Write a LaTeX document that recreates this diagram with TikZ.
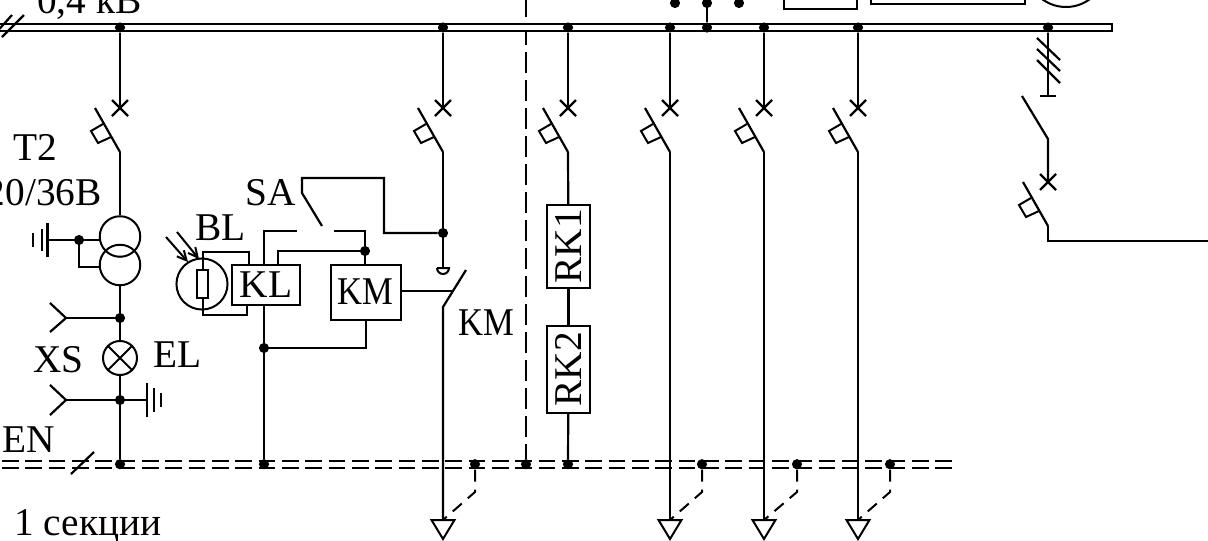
\documentclass[tikz,border=0pt]{standalone}
\usepackage{fontspec}
\usepackage{graphicx}
\setmainfont{Liberation Serif}
\usetikzlibrary{arrows.meta}
\tikzset{
  wire/.style={line width=1.65pt,line join=miter},
  thin wire/.style={line width=1.5pt},
  jdot/.style={circle,fill=black,inner sep=0pt,minimum size=7.6pt},
  box/.style={draw,line width=1.5pt,fill=white,inner sep=0pt},
  lbl/.style={font=\fontsize{29.5}{32}\selectfont,inner sep=0pt},
  dashA/.style={line width=1.6pt,dash pattern=on 15.5pt off 5.5pt},
  dashB/.style={line width=1.35pt,dash pattern=on 12.6pt off 4.9pt},
  dashC/.style={line width=1.5pt,dash pattern=on 9pt off 6pt},
  breaker/.pic={
    \draw[wire] (-8,-8) -- (8,8) (-8,8) -- (8,-8);
    \draw[wire] (-25,0) -- (0,44);
    \draw[thin wire] (-17,16) -- (-29,23) -- (-22,35) -- (-9,29);
    \coordinate (-top) at (0,0);
    \coordinate (-out) at (0,44);
  },
  groundtip/.pic={
    \draw[thin wire] (-11.5,0) -- (11.5,0) -- (0,19) -- cycle;
    \coordinate (-top) at (0,0);
  }
}
\begin{document}
\begin{tikzpicture}[x=0.75pt,y=-0.75pt]
\useasboundingbox (0,0) rectangle (1208,540);
\clip (0,0) rectangle (1208,540);

% vertical section divider
\coordinate (divT) at (526,-4);
\node[jdot] (jn2) at (526,464.2) {};
\draw[dashA] (divT) -- (jn2);

% top bus
\coordinate (busL) at (-6,24);
\coordinate (busR) at (1112,31);
\draw[line width=1.3pt,fill=white] (busL) rectangle (busR);

% N bus (double dashed)
\coordinate (nL1) at (2,460.7);
\coordinate (nR1) at (953,460.7);
\coordinate (nL2) at (2,467.7);
\coordinate (nR2) at (953,467.7);
\draw[dashB] (nL1) -- (nR1);
\draw[dashB] (nL2) -- (nR2);
\coordinate (enA) at (71,474);
\coordinate (enB) at (94,452);
\draw[wire] (enA) -- (enB);

% bus labels and slashes
\node[lbl,anchor=base west] (volt) at (37,13) {0,4 кВ};
\coordinate (sa) at (2,37); \coordinate (sb) at (24,15);
\coordinate (sc) at (-6,35); \coordinate (sd) at (12,15);
\draw[wire] (sa) -- (sb) (sc) -- (sd);

% top junctions on bus
\node[jdot] (b1) at (120,27.5) {};
\node[jdot] (b2) at (443,27.5) {};
\node[jdot] (b3) at (568,27.5) {};
\node[jdot] (b4) at (670,27.5) {};
\node[jdot] (b5) at (707,27.5) {};
\node[jdot] (b6) at (764,27.5) {};
\node[jdot] (b7) at (858,27.5) {};
\node[jdot] (b8) at (1048,27.5) {};

% partly visible devices at the top
\node[jdot] (t1) at (675,3) {};
\node[jdot] (t2) at (707,3) {};
\node[jdot] (t3) at (739,3) {};
\draw[wire] (t2) -- (b5);
\node[box,minimum width=54.8pt,minimum height=12pt,anchor=south west] (topA) at (783,9.7) {};
\node[box,minimum width=115.5pt,minimum height=12pt,anchor=south west] (topB) at (870,5.4) {};
\node[draw,circle,line width=1.5pt,minimum size=60pt,inner sep=0pt] (topC) at (1066,-33) {};

% breakers
\pic (q1) at (120,108) {breaker};
\pic (q2) at (443,108) {breaker};
\pic (q3) at (568,108) {breaker};
\pic (q4) at (670,108) {breaker};
\pic (q5) at (764,108) {breaker};
\pic (q6) at (858,108) {breaker};
\pic (q7) at (1048,182) {breaker};
\draw[wire] (b1) -- (q1-top);
\draw[wire] (b2) -- (q2-top);
\draw[wire] (b3) -- (q3-top);
\draw[wire] (b4) -- (q4-top);
\draw[wire] (b6) -- (q5-top);
\draw[wire] (b7) -- (q6-top);

% transformer T2 column
\node[draw,circle,line width=1.5pt,minimum size=30.4pt,inner sep=0pt] (tr1) at (120,236.5) {};
\node[draw,circle,line width=1.5pt,minimum size=30.4pt,inner sep=0pt] (tr2) at (120,265) {};
\draw[wire] (q1-out) -- (tr1.north);
\node[jdot] (j1) at (79,240) {};
\coordinate (gndL) at (47.5,240);
\draw[wire] (gndL) -- (j1) -- (100,240);
\draw[wire] (j1) |- (100,267);
\draw[wire] (47.5,223) -- (47.5,257);
\draw[wire] (41.7,229) -- (41.7,251);
\draw[thin wire] (33,233) -- (33,247);

\node[jdot] (j2) at (120,318) {};
\node[draw,circle,line width=1.5pt,minimum size=25.5pt,inner sep=0pt] (lamp) at (120,358) {};
\draw[thin wire] (lamp.north west) -- (lamp.south east) (lamp.north east) -- (lamp.south west);
\node[jdot] (j3) at (120,400) {};
\node[jdot] (n1) at (120,464.2) {};
\draw[wire] (tr2.south) -- (j2) -- (lamp.north);
\draw[wire] (lamp.south) -- (j3) -- (n1);
\coordinate (xs1) at (66,318);
\coordinate (xs2) at (66,400);
\draw[wire] (50,303) -- (xs1) -- (50,332);
\draw[wire] (50,385) -- (xs2) -- (50,415);
\draw[wire] (xs1) -- (j2);
\draw[wire] (xs2) -- (j3);
\coordinate (gndR) at (147,400);
\draw[wire] (j3) -- (gndR);
\draw[wire] (147,383) -- (147,417);
\draw[wire] (154,388) -- (154,412);
\draw[thin wire] (161,393) -- (161,407);

% photo-resistor BL and relay KL
\node[draw,circle,line width=1.5pt,minimum size=38.3pt,inner sep=0pt] (blc) at (202,284) {};
\node[box,minimum width=8.2pt,minimum height=21pt] (blr) at (202.5,284) {};
\node[box,minimum width=51pt,minimum height=30pt,anchor=north west,font=\fontsize{29.5}{32}\selectfont] (kl) at (231,264) {KL};
\draw[thin wire] (blr.north) -- (202.5,252) -| (249,264);
\draw[thin wire] (blr.south) -- (202.5,315) -| (247,304);
\coordinate (ar1a) at (177,232); \coordinate (ar1b) at (199,259);
\coordinate (ar2a) at (166,237); \coordinate (ar2b) at (188,262);
\draw[thin wire,-{Straight Barb[length=7pt,width=7pt]}] (ar1a) -- (ar1b);
\draw[thin wire,-{Straight Barb[length=7pt,width=7pt]}] (ar2a) -- (ar2b);

% relay KM
\node[box,minimum width=52.5pt,minimum height=41pt,anchor=north west] (km) at (330,264) {};
\node[lbl,anchor=base] (kmt) at (365,304) {\scalebox{0.88}[1]{KM}};

% control wiring
\node[jdot] (j4) at (365,251) {};
\node[jdot] (j5) at (443,233) {};
\node[jdot] (j6) at (264,348) {};
\node[jdot] (n2) at (264,464.2) {};
\coordinate (c1) at (297,231);
\coordinate (c2) at (334,231);
\draw[wire] (264,264) |- (c1);
\draw[wire] (c2) -| (j4);
\draw[wire] (j4) -- (365,264);
\draw[wire] (j4) -| (278,264);
\draw[wire] (264,304) -- (j6) -- (n2);
\draw[wire] (j6) -| (366,319);
\coordinate (sab) at (322,226);
\draw[wire] (sab) -- (302,193) -- (302,178) -| (384,233) -- (j5);

% main contactor column
\coordinate (kmA) at (443,268);
\draw[wire] (q2-out) -- (j5) -- (kmA);
\draw[thin wire] (437,268) -- (449,268) arc[start angle=0,end angle=180,x radius=6,y radius=6];
\coordinate (kmB) at (443,307);
\coordinate (kmC) at (466,270);
\pic (g2) at (443,520) {groundtip};
\pic (g4) at (670,520) {groundtip};
\pic (g5) at (764,520) {groundtip};
\pic (g6) at (858,520) {groundtip};
\draw[wire] (kmC) -- (kmB) -- (g2-top);
\draw[wire] (km.east |- 0,291) -- (453,291);
\draw[wire] (q4-out) -- (g4-top);
\draw[wire] (q5-out) -- (g5-top);
\draw[wire] (q6-out) -- (g6-top);

% N junctions with dashed PE leads
\node[jdot] (n3) at (475,464.2) {};
\node[jdot] (n4) at (568,464.2) {};
\node[jdot] (n5) at (702,464.2) {};
\node[jdot] (n6) at (797,464.2) {};
\node[jdot] (n7) at (890,464.2) {};
\draw[dashC] (n3) -- (475,492) -- (g2-top);
\draw[dashC] (n5) -- (702,492) -- (g4-top);
\draw[dashC] (n6) -- (797,492) -- (g5-top);
\draw[dashC] (n7) -- (890,492) -- (g6-top);

% RK column
\node[box,minimum width=32.2pt,minimum height=62.2pt,anchor=north west] (rk1) at (546,204) {};
\node[box,minimum width=32.2pt,minimum height=65.2pt,anchor=north west] (rk2) at (546,325) {};
\node[lbl,rotate=90] (rk1t) at (rk1.center) {RK1};
\node[lbl,rotate=90] (rk2t) at (rk2.center) {RK2};
\draw[wire] (q3-out) -- (rk1);
\draw[wire] (rk1) -- (rk2);
\draw[wire] (rk2) -- (n4);

% right outgoing line
\coordinate (tee) at (1048,96);
\draw[wire] (b8) -- (tee);
\draw[wire] (1040,96) -- (1056,96);
\draw[wire] (1037,38) -- (1060,60);
\draw[wire] (1037,49) -- (1060,71);
\draw[wire] (1037,60) -- (1060,83);
\coordinate (swa) at (1022,96);
\coordinate (swb) at (1048,139);
\draw[wire] (swa) -- (swb) -- (q7-top);
\coordinate (outR) at (1212,241);
\draw[wire] (q7-out) |- (outR);

% labels
\node[lbl,anchor=base west] (lt) at (13,160) {T2};
\node[lbl,anchor=base east] (lv) at (102,205) {220/36В};
\node[lbl,anchor=base west] (lsa) at (245,205) {SA};
\node[lbl,anchor=base west] (lbl1) at (195,240) {BL};
\node[lbl,anchor=base west] (lxs) at (33,372) {XS};
\node[lbl,anchor=base west] (lel) at (153,367) {EL};
\node[lbl,anchor=base west] (len) at (2,452) {EN};
\node[lbl,anchor=base west] (lkm) at (458,335) {\scalebox{0.88}[1]{KM}};
\node[lbl,anchor=base west] (lsec) at (14,535) {1 секции};
\end{tikzpicture}
\end{document}
